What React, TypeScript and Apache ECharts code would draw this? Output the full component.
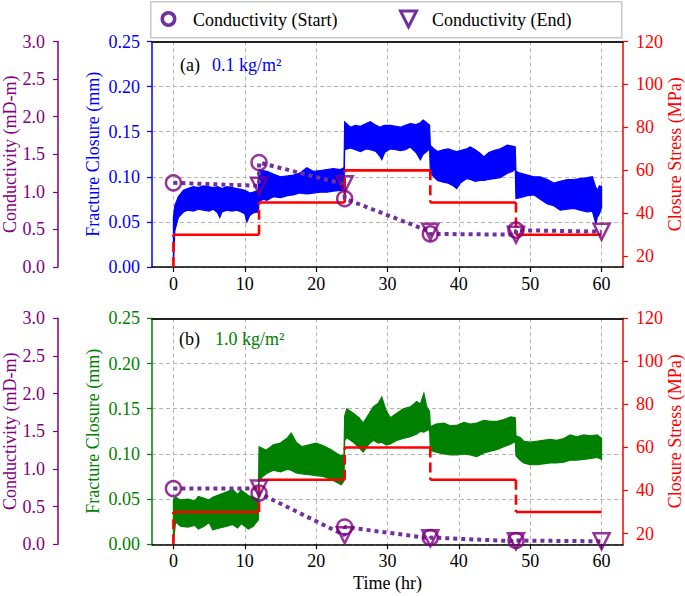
import React, { useEffect, useRef } from 'react';
import * as echarts from 'echarts';

// ---------- data ----------
const STAGE_TIMES = [0, 12, 24, 36, 48, 60];
const STRESS_LEVELS = [30, 45, 60, 45, 30];
const STRESS_BASE = 15;
const X_TICKS = [0, 10, 20, 30, 40, 50, 60];
const STRESS_TICKS = [20, 40, 60, 80, 100, 120];

const COND_START_A = [1.12, 1.39, 0.91, 0.44, 0.49];
const COND_END_A = [1.08, 1.1, 0.47, 0.43, 0.47];
const COND_START_B = [0.74, 0.68, 0.23, 0.09, 0.05];
const COND_END_B = [0.74, 0.12, 0.08, 0.04, 0.04];

const TIME_A = [0, 0.2, 0.7, 1.4, 2, 2.8, 3.5, 4.2, 5, 5.6, 6.2, 6.5, 6.8, 7.5, 8.2, 8.9, 9.5, 10, 10.3, 10.7, 11.2, 11.9,
  12.0, 12.6, 13.1, 14, 15, 16, 16.8, 17.7, 18.7, 19.6, 20.6, 21.5, 22.4, 23.4, 23.9,
  24.0, 24.8, 25.5, 26.2, 27, 27.6, 28.4, 29, 29.2, 29.6, 30.4, 31.2, 31.8, 32.5, 33.2, 34, 34.6, 35, 35.5, 35.9,
  36.0, 36.5, 37, 37.8, 38.5, 39.2, 39.7, 40.2, 41.1, 41.6, 42.3, 43, 43.5, 44.2, 44.9, 45.8, 46.8, 47.5, 47.9,
  48.0, 48.6, 49.6, 50.5, 51.4, 52.4, 53.3, 54.2, 55.2, 56.1, 57, 58, 58.7, 59.2, 59.4, 59.7, 60];
const CLOSURE_HIGH_A = [0.055, 0.068, 0.078, 0.085, 0.087, 0.089, 0.088, 0.09, 0.089, 0.088, 0.089, 0.088, 0.087, 0.089, 0.088, 0.087, 0.086, 0.085, 0.084, 0.082, 0.083, 0.085,
  0.108, 0.107, 0.106, 0.103, 0.1, 0.101, 0.102, 0.104, 0.11, 0.106, 0.107, 0.108, 0.109, 0.108, 0.11,
  0.161, 0.155, 0.157, 0.156, 0.159, 0.161, 0.157, 0.155, 0.156, 0.157, 0.157, 0.156, 0.155, 0.157, 0.159, 0.158, 0.16, 0.163, 0.16, 0.157,
  0.135, 0.131, 0.128, 0.13, 0.131, 0.129, 0.128, 0.129, 0.131, 0.133, 0.13, 0.126, 0.122, 0.127, 0.129, 0.131, 0.135, 0.134, 0.133,
  0.106, 0.104, 0.102, 0.1, 0.1, 0.097, 0.093, 0.095, 0.097, 0.097, 0.098, 0.099, 0.1, 0.088, 0.085, 0.09, 0.089];
const CLOSURE_LOW_A = [0.0, 0.04, 0.055, 0.061, 0.063, 0.062, 0.064, 0.063, 0.062, 0.064, 0.06, 0.055, 0.061, 0.063, 0.062, 0.063, 0.061, 0.059, 0.05, 0.057, 0.06, 0.061,
  0.073, 0.075, 0.074, 0.078, 0.077, 0.079, 0.08, 0.082, 0.081, 0.082, 0.083, 0.083, 0.084, 0.085, 0.085,
  0.13, 0.132, 0.13, 0.128, 0.131, 0.13, 0.128, 0.122, 0.119, 0.127, 0.131, 0.13, 0.129, 0.13, 0.133, 0.127, 0.119, 0.125, 0.128, 0.131,
  0.104, 0.1, 0.096, 0.094, 0.093, 0.09, 0.087, 0.093, 0.098, 0.097, 0.095, 0.096, 0.096, 0.097, 0.098, 0.099, 0.104, 0.106, 0.109,
  0.076, 0.077, 0.079, 0.08, 0.075, 0.07, 0.068, 0.063, 0.064, 0.065, 0.063, 0.061, 0.062, 0.048, 0.055, 0.059, 0.066];

const TIME_B = [0, 0.3, 1, 2, 3, 3.5, 4.3, 5, 5.5, 6.5, 7.5, 8.3, 9, 9.5, 10.5, 11.2, 11.9,
  12.0, 12.5, 13, 14, 15, 16, 16.5, 17.2, 18, 19, 20, 21, 22, 23, 23.5, 23.9,
  24.0, 24.3, 25.2, 26, 26.6, 27.3, 28, 28.7, 29.2, 29.8, 30.4, 31.3, 32.2, 33.2, 34.1, 34.6, 35.1, 35.5, 35.9,
  36.0, 36.8, 37.9, 38.8, 39.8, 40.7, 41.6, 42.5, 43.5, 44.4, 45.4, 46.3, 47.3, 47.9,
  48.0, 48.6, 49.1, 50, 50.9, 51.8, 52.8, 53.7, 54.7, 55.6, 56.5, 57.5, 58.5, 59.4, 60];
const CLOSURE_HIGH_B = [0.05, 0.052, 0.049, 0.05, 0.048, 0.053, 0.051, 0.049, 0.052, 0.055, 0.058, 0.061, 0.055, 0.06, 0.054, 0.052, 0.05,
  0.108, 0.106, 0.104, 0.11, 0.112, 0.118, 0.123, 0.113, 0.108, 0.11, 0.112, 0.109, 0.105, 0.1, 0.098, 0.099,
  0.142, 0.15, 0.145, 0.14, 0.134, 0.143, 0.152, 0.156, 0.163, 0.148, 0.14, 0.145, 0.15, 0.152, 0.158, 0.155, 0.167, 0.152, 0.147,
  0.13, 0.133, 0.134, 0.131, 0.132, 0.135, 0.133, 0.134, 0.137, 0.136, 0.136, 0.138, 0.141, 0.14,
  0.12, 0.118, 0.114, 0.113, 0.114, 0.115, 0.116, 0.115, 0.117, 0.121, 0.119, 0.121, 0.12, 0.121, 0.117];
const CLOSURE_LOW_B = [0.0, 0.025, 0.02, 0.019, 0.021, 0.017, 0.02, 0.024, 0.016, 0.018, 0.02, 0.022, 0.018, 0.023, 0.017, 0.02, 0.027,
  0.07, 0.075, 0.078, 0.082, 0.08, 0.083, 0.082, 0.079, 0.078, 0.077, 0.076, 0.075, 0.072, 0.068, 0.066, 0.07,
  0.115, 0.118, 0.113, 0.107, 0.102, 0.11, 0.115, 0.112, 0.113, 0.11, 0.111, 0.115, 0.117, 0.119, 0.122, 0.125, 0.124, 0.126, 0.127,
  0.104, 0.102, 0.1, 0.099, 0.099, 0.1, 0.099, 0.097, 0.101, 0.103, 0.105, 0.108, 0.111, 0.114,
  0.098, 0.093, 0.09, 0.088, 0.088, 0.089, 0.09, 0.09, 0.091, 0.093, 0.093, 0.094, 0.095, 0.096, 0.094];

// ---------- styling ----------
const FONT = '"Liberation Serif", "Times New Roman", "DejaVu Serif", serif';
const PURPLE = '#800080';
const PURPLE_LINE = '#7030a0';
const RED = '#ff0000';
const GRID_GRAY = '#b4b4b4';

function stressSolid() {
  const d: any[] = [];
  for (let i = 0; i < STRESS_LEVELS.length; i++) {
    d.push([STAGE_TIMES[i], STRESS_LEVELS[i]]);
    d.push([STAGE_TIMES[i + 1], STRESS_LEVELS[i]]);
    d.push([STAGE_TIMES[i + 1], '-']);
  }
  return d;
}
function stressRisers() {
  const d: any[] = [];
  for (let i = 0; i < STRESS_LEVELS.length; i++) {
    const prev = i === 0 ? STRESS_BASE : STRESS_LEVELS[i - 1];
    d.push([STAGE_TIMES[i], prev]);
    d.push([STAGE_TIMES[i], STRESS_LEVELS[i]]);
    d.push([STAGE_TIMES[i], '-']);
  }
  return d;
}
function condPath(start: number[], end: number[]) {
  const d: any[] = [];
  for (let i = 0; i < start.length; i++) {
    d.push([STAGE_TIMES[i], start[i]]);
    d.push([STAGE_TIMES[i + 1], end[i]]);
  }
  return d;
}

function bandSeries(time: number[], lo: number[], hi: number[], color: string, xi: number, yi: number) {
  return {
    type: 'custom',
    xAxisIndex: xi,
    yAxisIndex: yi,
    z: 2,
    silent: true,
    clip: true,
    data: time.map((t, i) => [t, lo[i], hi[i]]),
    encode: { x: 0, y: [1, 2] },
    renderItem: (params: any, api: any) => {
      if (params.dataIndex !== 0) return null;
      const pts: number[][] = [];
      for (let i = 0; i < time.length; i++) pts.push(api.coord([time[i], hi[i]]));
      for (let i = time.length - 1; i >= 0; i--) pts.push(api.coord([time[i], lo[i]]));
      return {
        type: 'polygon',
        shape: { points: pts },
        style: { fill: color, stroke: color, lineWidth: 1.2 },
      };
    },
  };
}

function panelSeries(p: number, time: number[], lo: number[], hi: number[], color: string, cs: number[], ce: number[]) {
  const xi = p * 2;
  const yF = p * 3, yC = p * 3 + 1, yS = p * 3 + 2;
  return [
    bandSeries(time, lo, hi, color, xi, yF),
    {
      type: 'line', xAxisIndex: xi, yAxisIndex: yS, data: stressSolid(), symbol: 'none', z: 3,
      lineStyle: { color: RED, width: 2.6 }, connectNulls: false, silent: true,
    },
    {
      type: 'line', xAxisIndex: xi, yAxisIndex: yS, data: stressRisers(), symbol: 'none', z: 3,
      lineStyle: { color: RED, width: 2.6, type: [10, 5] }, connectNulls: false, silent: true,
    },
    {
      type: 'line', xAxisIndex: xi, yAxisIndex: yC, data: condPath(cs, ce), symbol: 'none', z: 4,
      lineStyle: { color: PURPLE_LINE, width: 4, type: [4, 4] }, silent: true,
    },
    {
      type: 'scatter', xAxisIndex: xi, yAxisIndex: yC, z: 5, silent: true,
      data: cs.map((v, i) => [STAGE_TIMES[i], v]),
      symbol: 'circle', symbolSize: 15,
      itemStyle: { color: 'rgba(0,0,0,0)', borderColor: PURPLE, borderWidth: 2.5 },
    },
    {
      type: 'scatter', xAxisIndex: xi, yAxisIndex: yC, z: 5, silent: true,
      data: ce.map((v, i) => [STAGE_TIMES[i + 1], v]),
      symbol: 'triangle', symbolRotate: 180, symbolSize: [16, 16],
      itemStyle: { color: 'rgba(0,0,0,0)', borderColor: PURPLE, borderWidth: 2.5 },
    },
  ];
}

const labelStyle = (color: string) => ({ color, fontSize: 18, fontFamily: FONT });

function xAxes(gridIndex: number, showName: boolean) {
  return [
    {
      type: 'value', gridIndex, min: -3, max: 63, position: 'bottom',
      axisLine: { show: true, onZero: false, lineStyle: { color: '#000', width: 1.5 } },
      axisTick: { show: true, inside: false, length: 5, customValues: X_TICKS, lineStyle: { color: '#000', width: 1.2 } },
      axisLabel: { customValues: X_TICKS, margin: 8, ...labelStyle('#000') },
      splitLine: { show: true, lineStyle: { color: GRID_GRAY, type: [4, 3], width: 1 } },
      name: showName ? 'Time (hr)' : '', nameLocation: 'middle', nameGap: 30, nameMoveOverlap: false,
      nameTextStyle: labelStyle('#000'),
    },
    {
      type: 'value', gridIndex, min: -3, max: 63, position: 'top',
      axisLine: { show: true, onZero: false, lineStyle: { color: '#222', width: 2 } },
      axisTick: { show: false }, axisLabel: { show: false }, splitLine: { show: false },
    },
  ];
}

function yAxes(gridIndex: number, color: string) {
  return [
    {
      type: 'value', gridIndex, position: 'left', min: 0, max: 0.25, interval: 0.05,
      axisLine: { show: true, onZero: false, lineStyle: { color, width: 1.5 } },
      axisTick: { show: true, length: 5, lineStyle: { color, width: 1.2 } },
      axisLabel: { margin: 12, formatter: (v: number) => v.toFixed(2), ...labelStyle(color) },
      splitLine: { show: true, lineStyle: { color: GRID_GRAY, type: [4, 3], width: 1 } },
      name: 'Fracture Closure (mm)', nameLocation: 'middle', nameGap: 50, nameMoveOverlap: false,
      nameTextStyle: labelStyle(color),
    },
    {
      type: 'value', gridIndex, position: 'left', offset: 94, min: 0, max: 3, interval: 0.5,
      axisLine: { show: true, onZero: false, lineStyle: { color: PURPLE, width: 1.5 } },
      axisTick: { show: true, length: 5, lineStyle: { color: PURPLE, width: 1.2 } },
      axisLabel: { margin: 13, formatter: (v: number) => v.toFixed(1), ...labelStyle(PURPLE) },
      splitLine: { show: false },
      name: 'Conductivity (mD-m)', nameLocation: 'middle', nameGap: 39, nameMoveOverlap: false,
      nameTextStyle: labelStyle(PURPLE),
    },
    {
      type: 'value', gridIndex, position: 'right', min: STRESS_BASE, max: 120,
      axisLine: { show: true, onZero: false, lineStyle: { color: RED, width: 1.5 } },
      axisTick: { show: true, length: 5, customValues: STRESS_TICKS, lineStyle: { color: RED, width: 1.2 } },
      axisLabel: { margin: 13, customValues: STRESS_TICKS, formatter: (v: number) => String(v), ...labelStyle(RED) },
      splitLine: { show: false },
      name: 'Closure Stress (MPa)', nameLocation: 'middle', nameGap: 43, nameMoveOverlap: false,
      nameTextStyle: labelStyle(RED),
    },
  ];
}

const txt = (text: string, x: number, y: number, fill: string) => ({
  type: 'text', x, y, z: 11,
  style: { text, fill, fontSize: 18, fontFamily: FONT, verticalAlign: 'middle' },
});

export default function App() {
  const ref = useRef<HTMLDivElement>(null);
  useEffect(() => {
    if (!ref.current) return;
    const chart = echarts.init(ref.current, null, { renderer: 'svg' });
    const option: any = {
      animation: false,
      backgroundColor: '#fff',
      textStyle: { fontFamily: FONT },
      grid: [
        { left: 152, right: 62, top: 41.5, height: 225.5, containLabel: false, outerBoundsMode: 'none' },
        { left: 152, right: 62, top: 318.3, height: 226, containLabel: false, outerBoundsMode: 'none' },
      ],
      xAxis: [...xAxes(0, false), ...xAxes(1, true)],
      yAxis: [...yAxes(0, '#0000ff'), ...yAxes(1, '#008000')],
      series: [
        ...panelSeries(0, TIME_A, CLOSURE_LOW_A, CLOSURE_HIGH_A, '#0000ff', COND_START_A, COND_END_A),
        ...panelSeries(1, TIME_B, CLOSURE_LOW_B, CLOSURE_HIGH_B, '#008000', COND_START_B, COND_END_B),
      ],
      graphic: [
        {
          type: 'rect', left: 150, top: 1, z: 10,
          shape: { width: 471, height: 36 },
          style: { fill: '#fff', stroke: '#c8c8c8', lineWidth: 1.5 },
        },
        {
          type: 'circle', x: 168.5, y: 19, z: 11,
          shape: { r: 6.2 },
          style: { fill: 'none', stroke: PURPLE_LINE, lineWidth: 3.5 },
        },
        txt('Conductivity (Start)', 193, 19.5, '#000'),
        {
          type: 'polygon', z: 11,
          shape: { points: [[400.5, 11], [416.5, 11], [408.5, 27]] },
          style: { fill: 'none', stroke: PURPLE_LINE, lineWidth: 3 },
        },
        txt('Conductivity (End)', 432, 19.5, '#000'),
        txt('(a)', 180, 65, '#000'),
        txt('0.1 kg/m²', 212, 65, '#0000ff'),
        txt('(b)', 179, 339, '#000'),
        txt('1.0 kg/m²', 215, 339, '#008000'),
      ],
    };
    chart.setOption(option);
    return () => chart.dispose();
  }, []);
  return <div ref={ref} style={{ position: 'absolute', left: 0, top: 0, width: 685, height: 596 }} />;
}
